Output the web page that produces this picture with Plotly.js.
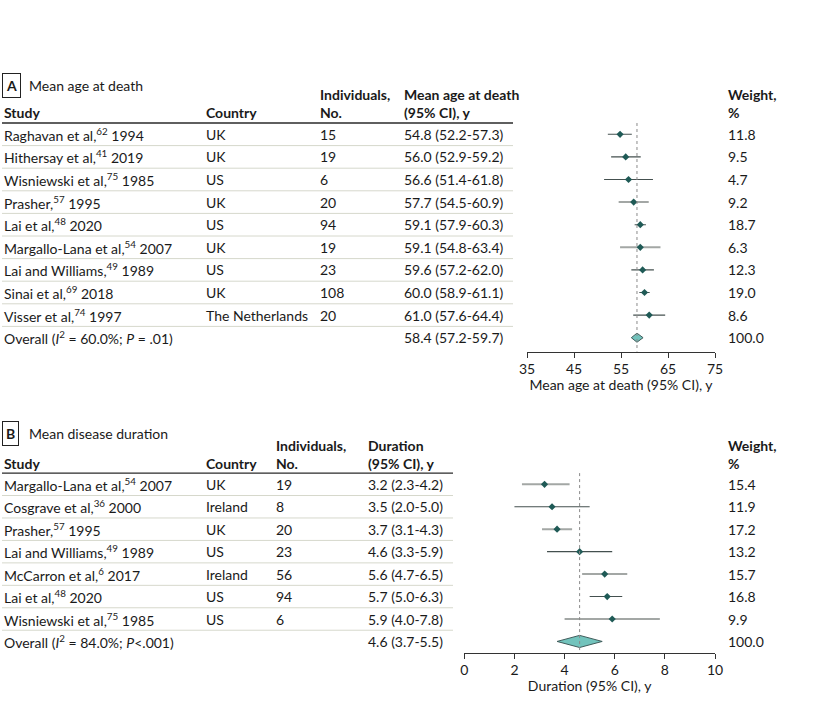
<!DOCTYPE html>
<html>
<head>
<meta charset="utf-8">
<script src="https://cdn.plot.ly/plotly-3.0.1.min.js"></script>
<style>html,body{margin:0;padding:0;background:#fff;}#chart{width:825px;height:706px;}</style>
</head>
<body>
<div id="chart"></div>
<script>
// ---------- Panel A data: mean age at death ----------
const studiesA = ['Raghavan et al,<sup>62</sup> 1994', 'Hithersay et al,<sup>41</sup> 2019', 'Wisniewski et al,<sup>75</sup> 1985',
  'Prasher,<sup>57</sup> 1995', 'Lai et al,<sup>48</sup> 2020', 'Margallo-Lana et al,<sup>54</sup> 2007',
  'Lai and Williams,<sup>49</sup> 1989', 'Sinai et al,<sup>69</sup> 2018', 'Visser et al,<sup>74</sup> 1997'];
const countriesA = ['UK', 'UK', 'US', 'UK', 'US', 'UK', 'US', 'UK', 'The Netherlands'];
const nA = [15, 19, 6, 20, 94, 19, 23, 108, 20];
const estA = [54.8, 56.0, 56.6, 57.7, 59.1, 59.1, 59.6, 60.0, 61.0];
const loA = [52.2, 52.9, 51.4, 54.5, 57.9, 54.8, 57.2, 58.9, 57.6];
const hiA = [57.3, 59.2, 61.8, 60.9, 60.3, 63.4, 62.0, 61.1, 64.4];
const weightA = [11.8, 9.5, 4.7, 9.2, 18.7, 6.3, 12.3, 19.0, 8.6];
const overallA = [58.4, 57.2, 59.7];   // estimate, lower, upper
const overallStatsA = ['60.0', '.01']; // I2 %, P
const ticksA = [35, 45, 55, 65, 75];

// ---------- Panel B data: mean disease duration ----------
const studiesB = ['Margallo-Lana et al,<sup>54</sup> 2007', 'Cosgrave et al,<sup>36</sup> 2000', 'Prasher,<sup>57</sup> 1995',
  'Lai and Williams,<sup>49</sup> 1989', 'McCarron et al,<sup>6</sup> 2017', 'Lai et al,<sup>48</sup> 2020',
  'Wisniewski et al,<sup>75</sup> 1985'];
const countriesB = ['UK', 'Ireland', 'UK', 'US', 'Ireland', 'US', 'US'];
const nB = [19, 8, 20, 23, 56, 94, 6];
const estB = [3.2, 3.5, 3.7, 4.6, 5.6, 5.7, 5.9];
const loB = [2.3, 2.0, 3.1, 3.3, 4.7, 5.0, 4.0];
const hiB = [4.2, 5.0, 4.3, 5.9, 6.5, 6.3, 7.8];
const weightB = [15.4, 11.9, 17.2, 13.2, 15.7, 16.8, 9.9];
const overallB = [4.6, 3.7, 5.5];
const overallStatsB = ['84.0', '&lt;.001'];
const ticksB = [0, 2, 4, 6, 8, 10];

// ---------- styling ----------
const W = 825, H = 706;
const FONT = 'Lato, "Noto Sans", sans-serif';
const FS = 14;
const TXT = '#1a1a1a';
const DARK = '#44504f', GREY = '#a3a7a5';
const ciStyleA = ['d', 'd', 'd', 'g', 'd', 'g', 'd', 'd', 'd'];
const ciStyleB = ['g', 'd', 'g', 'd', 'g', 'd', 'g'];
const px = p => p / W;
const py = p => 1 - p / H;
const f1 = v => v.toFixed(1);

// panel geometry (pixels)
const PA = {row0: 134.3, rowH: 22.6, axisY: 351.7, top: 60, x0: 527, x1: 715, colEnd: 513,
  cols: [2, 204, 318, 402], weightX: 726, head1: 95, head2: 112.7, title: 85.5};
const PB = {row0: 484.3, rowH: 22.45, axisY: 652.7, top: 410, x0: 464.3, x1: 715, colEnd: 453,
  cols: [2, 204, 274, 366], weightX: 726, head1: 445.3, head2: 463.3, title: 433.5};

function idxRange(P) {
  return [(P.axisY - P.row0) / P.rowH, (P.top - P.row0) / P.rowH];
}

const traces = [];
const annotations = [];
const shapes = [];

function buildPanel(P, xa, ya, studies, countries, n, est, lo, hi, weight, overall, stats, styles,
                    letter, title, headCol4, diamondH) {
  const xref = xa, yref = ya;
  const k = studies.length;
  for (let i = 0; i < k; i++) {
    const g = styles[i] === 'g';
    traces.push({x: [lo[i], hi[i]], y: [i, i], mode: 'lines', xaxis: xa, yaxis: ya, hoverinfo: 'skip',
      line: {color: g ? GREY : DARK, width: g ? 2 : 1.1}});
  }
  traces.push({x: est, y: est.map((_, i) => i), mode: 'markers', xaxis: xa, yaxis: ya,
    marker: {symbol: 'diamond', size: 5.5, color: '#1f5a56'}});
  traces.push({x: [overall[1], overall[0], overall[2], overall[0], overall[1]],
    y: [k, k - diamondH, k, k + diamondH, k], mode: 'lines', fill: 'toself', fillcolor: '#72c3bc',
    line: {color: '#3f5c5b', width: 1}, xaxis: xa, yaxis: ya, hoverinfo: 'skip'});
  shapes.push({type: 'line', xref: xref, yref: yref, x0: overall[0], x1: overall[0], y0: -0.5,
    y1: (P.axisY - P.row0) / P.rowH, line: {color: '#8a8a8a', width: 1, dash: 'dot'}});
  shapes.push({type: 'line', xref: 'paper', yref: yref, x0: px(2), x1: px(P.colEnd), y0: -0.5, y1: -0.5,
    line: {color: '#2a2a2a', width: 1.3}});
  for (let i = 0; i < k; i++) {
    shapes.push({type: 'line', xref: 'paper', yref: yref, x0: px(2), x1: px(P.colEnd), y0: i + 0.5, y1: i + 0.5,
      line: {color: '#d6d8cc', width: 1}});
  }
  const A = (x, y, text, extra) => Object.assign({x: px(x), y: y, xref: 'paper', yref: yref, text: text,
    showarrow: false, xanchor: 'left', yanchor: 'middle', font: {family: FONT, size: FS, color: TXT}}, extra || {});
  for (let i = 0; i < k; i++) {
    annotations.push(A(P.cols[0], i, studies[i]));
    annotations.push(A(P.cols[1], i, countries[i]));
    annotations.push(A(P.cols[2], i, String(n[i])));
    annotations.push(A(P.cols[3], i, f1(est[i]) + ' (' + f1(lo[i]) + '-' + f1(hi[i]) + ')'));
    annotations.push(A(P.weightX, i, f1(weight[i])));
  }
  annotations.push(A(P.cols[0], k, 'Overall (<i>I</i><sup>2</sup> = ' + stats[0] + '%; <i>P</i>' +
    (stats[1].indexOf('&lt;') === 0 ? stats[1] : ' = ' + stats[1]) + ')'));
  annotations.push(A(P.cols[3], k, f1(overall[0]) + ' (' + f1(overall[1]) + '-' + f1(overall[2]) + ')'));
  annotations.push(A(P.weightX, k, f1(100)));
  const Hd = (x, yPix, text, wt) => ({x: px(x), y: py(yPix), xref: 'paper', yref: 'paper', text: text,
    showarrow: false, xanchor: 'left', yanchor: 'middle',
    font: {family: FONT, size: FS, color: TXT, weight: wt || 400}});
  annotations.push(Hd(P.cols[0], P.head2, 'Study', 700));
  annotations.push(Hd(P.cols[1], P.head2, 'Country', 700));
  annotations.push(Hd(P.cols[2], P.head1, 'Individuals,', 700));
  annotations.push(Hd(P.cols[2], P.head2, 'No.', 700));
  annotations.push(Hd(P.cols[3], P.head1, headCol4[0], 700));
  annotations.push(Hd(P.cols[3], P.head2, headCol4[1], 700));
  annotations.push(Hd(P.weightX, P.head1, 'Weight,', 700));
  annotations.push(Hd(P.weightX, P.head2, '%', 700));
  annotations.push(Object.assign(Hd(2, P.title, letter, 700),
    {bordercolor: '#222', borderwidth: 1, borderpad: 3}));
  annotations.push(Hd(27, P.title, title));
}

buildPanel(PA, 'x', 'y', studiesA, countriesA, nA, estA, loA, hiA, weightA, overallA, overallStatsA, ciStyleA,
  'A', 'Mean age at death', ['Mean age at death', '(95% CI), y'], 0.2);
buildPanel(PB, 'x2', 'y2', studiesB, countriesB, nB, estB, loB, hiB, weightB, overallB, overallStatsB, ciStyleB,
  'B', 'Mean disease duration', ['Duration', '(95% CI), y'], 0.27);

const axBase = {showgrid: false, zeroline: false, showline: true, linecolor: '#333', linewidth: 1,
  ticks: 'outside', ticklen: 5, tickcolor: '#333', ticklabelstandoff: -1,
  tickfont: {family: FONT, size: FS, color: TXT}, fixedrange: true};

const layout = {
  width: W, height: H, margin: {l: 0, r: 0, t: 0, b: 0}, paper_bgcolor: '#fff', plot_bgcolor: 'rgba(0,0,0,0)',
  showlegend: false, font: {family: FONT, size: FS, color: TXT},
  xaxis: Object.assign({}, axBase, {domain: [px(PA.x0), px(PA.x1)], range: [ticksA[0], ticksA[ticksA.length - 1]],
    tickvals: ticksA, anchor: 'y', title: {text: 'Mean age at death (95% CI), y', standoff: 4,
    font: {family: FONT, size: FS, color: TXT}}}),
  yaxis: {domain: [py(PA.axisY), py(PA.top)], range: idxRange(PA), visible: false, fixedrange: true},
  xaxis2: Object.assign({}, axBase, {domain: [px(PB.x0), px(PB.x1)], range: [ticksB[0], ticksB[ticksB.length - 1]],
    tickvals: ticksB, anchor: 'y2', title: {text: 'Duration (95% CI), y', standoff: 4,
    font: {family: FONT, size: FS, color: TXT}}}),
  yaxis2: {domain: [py(PB.axisY), py(PB.top)], range: idxRange(PB), visible: false, fixedrange: true},
  annotations: annotations, shapes: shapes
};

Plotly.newPlot('chart', traces, layout, {displayModeBar: false, staticPlot: true});
</script>
</body>
</html>
